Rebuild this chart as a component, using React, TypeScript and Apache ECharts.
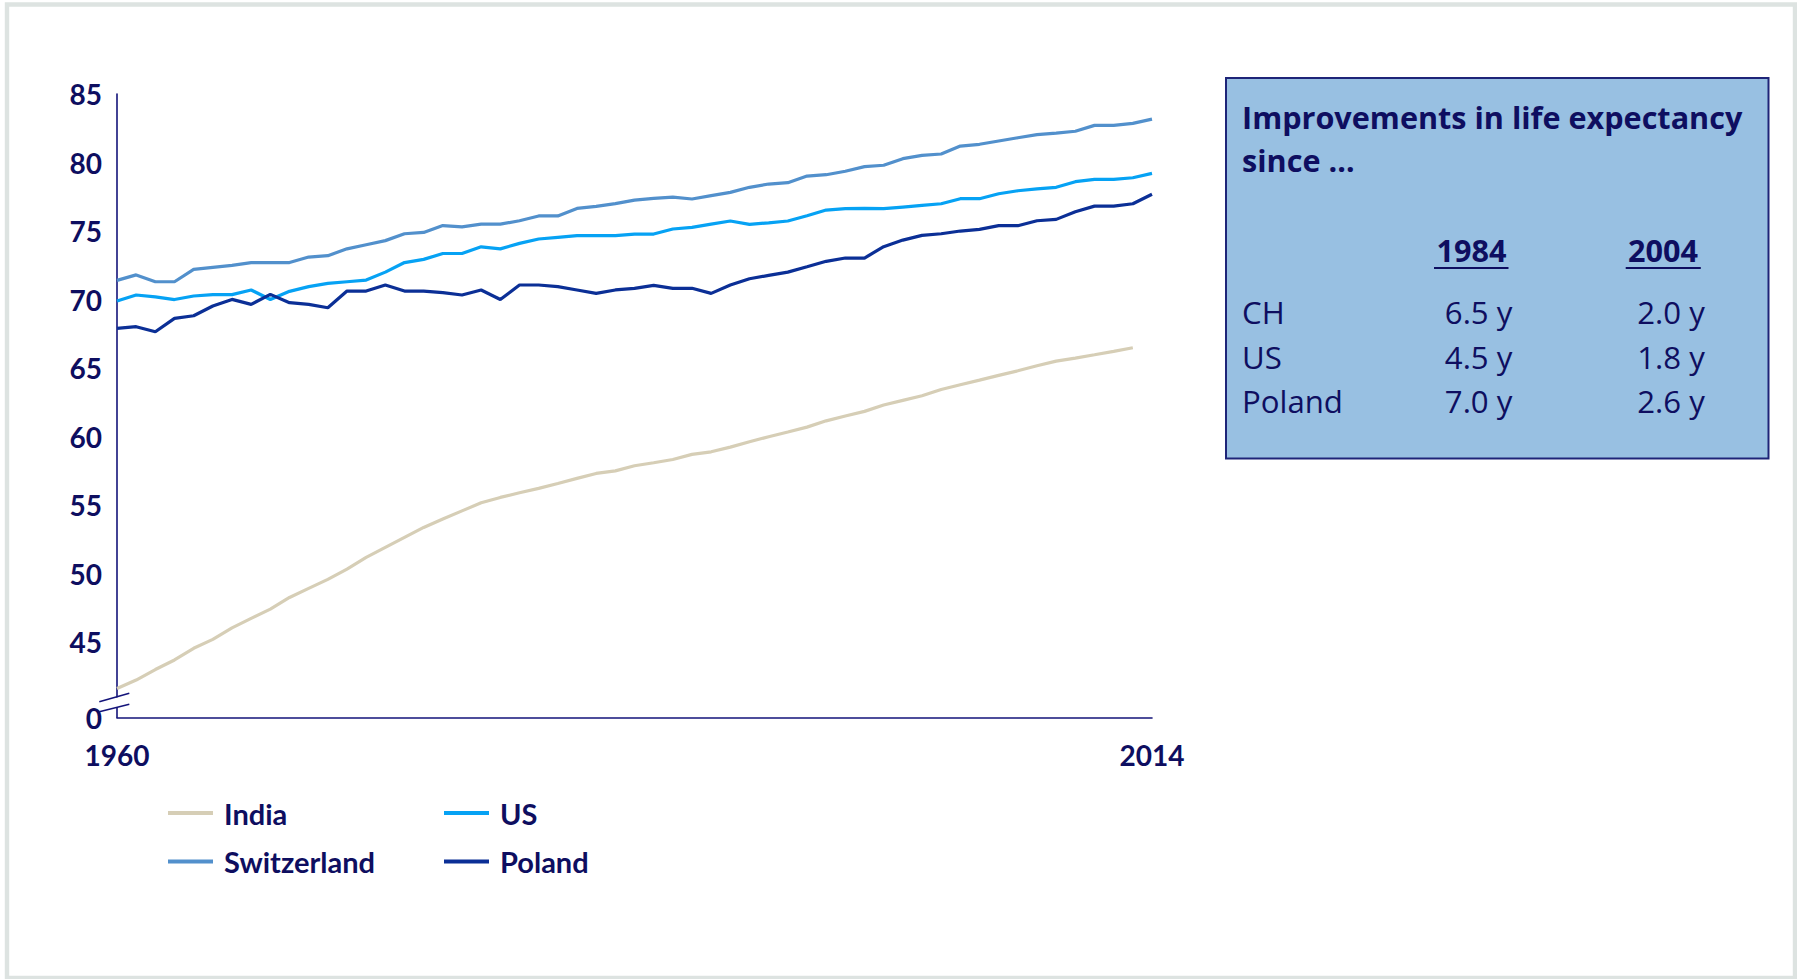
import React, { useEffect, useRef } from "react";
import * as echarts from "echarts";

const years: string[] = Array.from({ length: 55 }, (_, i) => String(1960 + i));

const india = [
  41.62, 42.23, 43.0, 43.7, 44.55, 45.2, 46.04, 46.73, 47.41, 48.26,
  48.92, 49.58, 50.33, 51.18, 51.91, 52.64, 53.37, 53.98, 54.58, 55.17,
  55.56, 55.9, 56.22, 56.58, 56.95, 57.31, 57.5, 57.87, 58.09, 58.33,
  58.7, 58.89, 59.23, 59.62, 59.99, 60.33, 60.69, 61.15, 61.5, 61.84,
  62.3, 62.64, 62.98, 63.44, 63.78, 64.12, 64.47, 64.8, 65.17, 65.51,
  65.73, 65.97, 66.22, 66.48, null,
];

const us = [
  69.9, 70.33, 70.2, 70.0, 70.26, 70.36, 70.36, 70.7, 70.0, 70.6,
  70.94, 71.18, 71.3, 71.42, 72.0, 72.7, 72.93, 73.36, 73.36, 73.85,
  73.7, 74.1, 74.42, 74.54, 74.66, 74.66, 74.66, 74.78, 74.78, 75.15,
  75.27, 75.5, 75.73, 75.49, 75.6, 75.73, 76.12, 76.53, 76.63, 76.65,
  76.63, 76.75, 76.87, 76.99, 77.36, 77.36, 77.72, 77.94, 78.07, 78.19,
  78.6, 78.77, 78.77, 78.89, 79.21,
];

const switzerland = [
  71.4, 71.8, 71.3, 71.3, 72.2, 72.35, 72.5, 72.7, 72.7, 72.7,
  73.1, 73.2, 73.7, 74.0, 74.3, 74.8, 74.9, 75.4, 75.3, 75.5,
  75.5, 75.75, 76.1, 76.1, 76.65, 76.8, 77.0, 77.26, 77.38, 77.48,
  77.34, 77.58, 77.82, 78.19, 78.43, 78.53, 79.01, 79.11, 79.36, 79.7,
  79.8, 80.28, 80.52, 80.62, 81.2, 81.33, 81.57, 81.81, 82.03, 82.15,
  82.28, 82.71, 82.71, 82.86, 83.17,
];

const poland = [
  67.9, 68.02, 67.65, 68.63, 68.82, 69.53, 70.01, 69.65, 70.38, 69.77,
  69.65, 69.4, 70.62, 70.62, 71.06, 70.62, 70.62, 70.5, 70.33, 70.7,
  70.0, 71.06, 71.06, 70.94, 70.7, 70.45, 70.7, 70.82, 71.04, 70.82,
  70.82, 70.45, 71.06, 71.52, 71.76, 72.0, 72.39, 72.79, 73.03, 73.03,
  73.86, 74.34, 74.68, 74.8, 75.0, 75.12, 75.39, 75.39, 75.75, 75.85,
  76.41, 76.82, 76.82, 76.99, 77.68,
];

const yTickValues = [39.5, 45, 50, 55, 60, 65, 70, 75, 80, 85];
const yTickLabels = ["0", "45", "50", "55", "60", "65", "70", "75", "80", "85"];

const boxTitle = ["Improvements in life expectancy", "since \u2026"];
const boxHeaders = ["1984", "2004"];
const boxRows = ["CH", "US", "Poland"];
const boxCol1984 = ["6.5 y", "4.5 y", "7.0 y"];
const boxCol2004 = ["2.0 y", "1.8 y", "2.6 y"];

const NAVY = "#0E0E60";
const AXIS = "#13137A";
const FONT = "Lato, 'Open Sans', sans-serif";
const BOX_FONT = "'Open Sans', Lato, sans-serif";

const C_INDIA = "#D6CEB6";
const C_US = "#06A2F4";
const C_CH = "#5290CC";
const C_PL = "#0B2F96";

function txt(text: string, x: number, y: number, size: number, weight: string, align: string) {
  return {
    type: "text",
    x,
    y,
    z: 100,
    silent: true,
    style: {
      text,
      fontSize: size,
      fontWeight: weight,
      fontFamily: BOX_FONT,
      fill: NAVY,
      align,
      textAlign: align,
      verticalAlign: "middle",
      textVerticalAlign: "middle",
    },
  };
}

export default function App() {
  const ref = useRef<HTMLDivElement>(null);
  useEffect(() => {
    const chart = echarts.init(ref.current!, null, { renderer: "svg" });
    const head1 = 1471.4;
    const head2 = 1663;
    const val1 = 1478.6;
    const val2 = 1671;
    const rowY = [312, 357, 401.4];
    const graphics: any[] = [
      {
        type: "rect",
        z: 0,
        silent: true,
        shape: { x: 7, y: 4.5, width: 1788, height: 973.5 },
        style: { fill: "none", stroke: "#DDE3E1", lineWidth: 4.4 },
      },
      {
        type: "rect",
        z: 50,
        silent: true,
        shape: { x: 1226, y: 78, width: 542.5, height: 380.5 },
        style: { fill: "#98C0E2", stroke: "#1E2478", lineWidth: 2 },
      },
      txt(boxTitle[0], 1242, 116.5, 30.6, "bold", "left"),
      txt(boxTitle[1], 1242, 160, 30.6, "bold", "left"),
      txt(boxHeaders[0], head1, 250.2, 30.6, "bold", "center"),
      txt(boxHeaders[1], head2, 250.2, 30.6, "bold", "center"),
      {
        type: "line",
        z: 100,
        silent: true,
        shape: { x1: 1434, y1: 268, x2: 1508.5, y2: 268 },
        style: { stroke: NAVY, lineWidth: 2 },
      },
      {
        type: "line",
        z: 100,
        silent: true,
        shape: { x1: 1625.7, y1: 268, x2: 1700.8, y2: 268 },
        style: { stroke: NAVY, lineWidth: 2 },
      },
      // axis break marker
      {
        type: "polygon",
        z: 100,
        silent: true,
        shape: { points: [[104, 701], [130, 694], [130, 704], [104, 710.5]] },
        style: { fill: "#ffffff" },
      },
      {
        type: "line",
        z: 101,
        silent: true,
        shape: { x1: 99.3, y1: 701.7, x2: 129.3, y2: 693.3 },
        style: { stroke: AXIS, lineWidth: 1.6 },
      },
      {
        type: "line",
        z: 101,
        silent: true,
        shape: { x1: 99.3, y1: 711.7, x2: 129.3, y2: 704.3 },
        style: { stroke: AXIS, lineWidth: 1.6 },
      },
    ];
    boxRows.forEach((r, i) => {
      graphics.push(txt(r, 1242, rowY[i], 31.2, "normal", "left"));
      graphics.push(txt(boxCol1984[i], val1, rowY[i], 31.2, "normal", "center"));
      graphics.push(txt(boxCol2004[i], val2, rowY[i], 31.2, "normal", "center"));
    });

    const lineSeries = (name: string, data: any[], color: string) => ({
      name,
      type: "line",
      data,
      showSymbol: false,
      symbol: "none",
      connectNulls: false,
      lineStyle: { color, width: 3.2 },
      itemStyle: { color },
      emphasis: { disabled: true },
    });

    const legendText = {
      color: NAVY,
      fontFamily: FONT,
      fontWeight: "bold",
      fontSize: 29,
      lineHeight: 30,
      padding: [0, 0, 0, 6],
    };

    chart.setOption({
      animation: false,
      backgroundColor: "#ffffff",
      grid: { left: 117, right: 645, top: 94, bottom: 261.5, containLabel: false },
      xAxis: {
        type: "category",
        data: years,
        boundaryGap: false,
        axisLine: { show: true, lineStyle: { color: AXIS, width: 1.6 } },
        axisTick: { show: false },
        splitLine: { show: false },
        axisLabel: {
          interval: (index: number) => index === 0 || index === years.length - 1,
          color: NAVY,
          fontFamily: FONT,
          fontWeight: "bold",
          fontSize: 28,
          margin: 23,
        },
      },
      yAxis: {
        type: "value",
        min: 39.5,
        max: 85,
        axisLine: { show: true, lineStyle: { color: AXIS, width: 1.6 } },
        axisTick: { show: false },
        splitLine: { show: false },
        axisLabel: {
          customValues: yTickValues,
          formatter: (v: number) => {
            const i = yTickValues.indexOf(v);
            return i >= 0 ? yTickLabels[i] : "";
          },
          color: NAVY,
          fontFamily: FONT,
          fontWeight: "bold",
          fontSize: 28,
          margin: 15,
        },
      },
      legend: [
        {
          orient: "vertical",
          left: 168,
          top: 798,
          padding: 0,
          itemWidth: 45,
          itemHeight: 4,
          itemGap: 18.4,
          icon: "rect",
          data: ["India", "Switzerland"],
          textStyle: legendText,
          selectedMode: false,
        },
        {
          orient: "vertical",
          left: 444,
          top: 798,
          padding: 0,
          itemWidth: 45,
          itemHeight: 4,
          itemGap: 18.4,
          icon: "rect",
          data: ["US", "Poland"],
          textStyle: legendText,
          selectedMode: false,
        },
      ],
      series: [
        lineSeries("India", india, C_INDIA),
        lineSeries("Switzerland", switzerland, C_CH),
        lineSeries("US", us, C_US),
        lineSeries("Poland", poland, C_PL),
      ],
      graphic: graphics,
    });
    return () => chart.dispose();
  }, []);
  return (
    <div
      ref={ref}
      style={{ position: "fixed", left: 0, top: 0, width: 1797, height: 979, background: "#ffffff" }}
    />
  );
}
